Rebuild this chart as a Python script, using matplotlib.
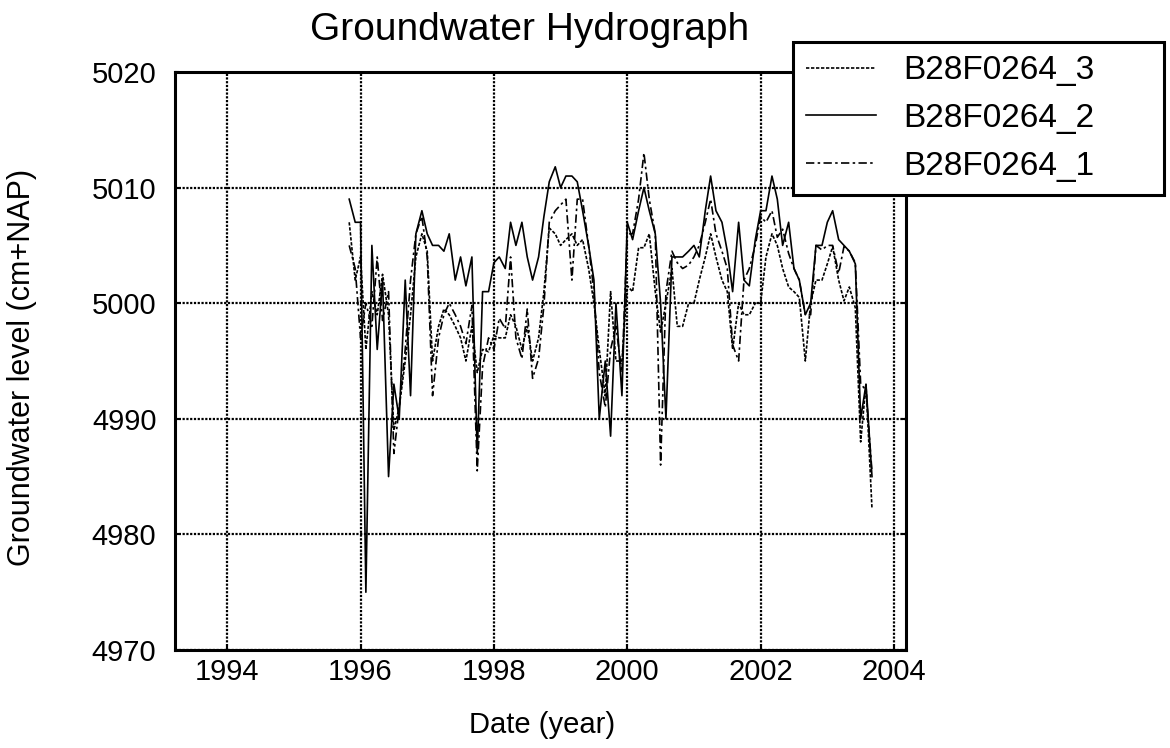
import matplotlib.pyplot as plt

# monthly readings, decimal years
years = [1995.83, 1995.92,
         1996.00, 1996.08, 1996.17, 1996.25, 1996.33, 1996.42, 1996.50, 1996.58, 1996.67, 1996.75, 1996.83, 1996.92,
         1997.00, 1997.08, 1997.17, 1997.25, 1997.33, 1997.42, 1997.50, 1997.58, 1997.67, 1997.75, 1997.83, 1997.92,
         1998.00, 1998.08, 1998.17, 1998.25, 1998.33, 1998.42, 1998.50, 1998.58, 1998.67, 1998.75, 1998.83, 1998.92,
         1999.00, 1999.08, 1999.17, 1999.25, 1999.33, 1999.42, 1999.50, 1999.58, 1999.67, 1999.75, 1999.83, 1999.92,
         2000.00, 2000.08, 2000.17, 2000.25, 2000.33, 2000.42, 2000.50, 2000.58, 2000.67, 2000.75, 2000.83, 2000.92,
         2001.00, 2001.08, 2001.17, 2001.25, 2001.33, 2001.42, 2001.50, 2001.58, 2001.67, 2001.75, 2001.83, 2001.92,
         2002.00, 2002.08, 2002.17, 2002.25, 2002.33, 2002.42, 2002.50, 2002.58, 2002.67, 2002.75, 2002.83, 2002.92,
         2003.00, 2003.08, 2003.17, 2003.25, 2003.33, 2003.42, 2003.50, 2003.58, 2003.67]

level_2 = [5009, 5007, 5007, 4975, 5005, 4996, 5002, 4985, 4993, 4990, 5002, 4992,
           5006, 5008, 5006, 5005, 5005, 5004.5, 5006, 5002, 5004, 5001.5, 5004, 4987,
           5001, 5001, 5003.5, 5004, 5003, 5007, 5005, 5007, 5004, 5002, 5004, 5007.5,
           5010.5, 5011.8, 5010, 5011, 5011, 5010.5, 5008, 5005, 5002, 4990, 4995, 4988.5,
           5000, 4992, 5007, 5005.5, 5008, 5010, 5008, 5006, 5000, 4990, 5004, 5004,
           5004, 5004.5, 5005, 5004, 5008, 5011, 5008, 5007, 5004.5, 5001, 5007, 5002,
           5001.5, 5005.5, 5008, 5008, 5011, 5009, 5005, 5007, 5003, 5002, 4999, 5000,
           5005, 5005, 5007, 5008, 5005.5, 5005, 5004.5, 5003.4, 4990, 4993, 4985]

level_1 = [5005, 5003, 4997, 5000, 4998, 5004, 4998.5, 5001, 4987, 4991, 4996, 5002,
           5006, 5007.5, 5004, 4992, 4997, 4999, 5000, 4999, 4998, 4996.5, 4999.8, 4985.5,
           4994.5, 4997, 4996, 4998.7, 4997.8, 5004, 4997, 4995.2, 4999.5, 4993.5, 4995.2, 4999.8,
           5007, 5008, 5008.5, 5009, 5002, 5009, 5009, 5005, 5001, 4994, 4991, 4996,
           4998, 4994, 5006, 5006, 5009, 5013, 5009, 5006, 4986, 5001, 5004.5, 5003.5,
           5003, 5003.3, 5004, 5005, 5007, 5009, 5006, 5004.5, 5003, 4996.4, 4995, 5002,
           5003, 5005, 5007.5, 5007, 5008, 5005.7, 5006.4, 5004.3, 5003, 5002, 4999, 4999,
           5005, 5004.6, 5005, 5005, 5002.6, 5004.9, 5004.5, 5003.5, 4993, 4992.5, 4985.4]

level_3 = [5007, 5002, 5004, 4996, 5001, 4999, 5002.5, 4999, 4989, 4991, 4995, 4999,
           5004, 5006, 5004.5, 4995, 4998, 4999.5, 4999, 4998, 4997, 4995, 4998, 4994,
           4996, 4995.8, 4997.2, 4997, 4997, 4999, 4998, 4996, 4998, 4995, 4997, 5001,
           5006.5, 5006, 5005, 5005.5, 5006, 5005, 5005.5, 5003, 5000, 4996, 4992, 5001,
           4995, 4995, 5001.5, 5001, 5004.8, 5004.8, 5006, 5001, 4997.5, 5000, 5003, 4998,
           4998, 5000, 5000, 5002, 5004, 5006, 5004, 5002, 5001, 4996, 5000, 4999,
           4999, 5000, 5000, 5004, 5006, 5005, 5003, 5001.4, 5001, 5000.5, 4995, 5000,
           5002, 5002, 5003.4, 5004.9, 5002, 5000.2, 5001.4, 4999.6, 4988, 4993, 4982.2]

x_ticks = [1994, 1996, 1998, 2000, 2002, 2004]
y_ticks = [4970, 4980, 4990, 5000, 5010, 5020]

plt.rcParams['font.family'] = ['Liberation Sans', 'DejaVu Sans']

W, H = 1170, 748
fig = plt.figure(figsize=(W / 100, H / 100), dpi=100)
ax = fig.add_axes([174.5 / W, 98 / H, 731.5 / W, 578 / H])

ax.plot(years, level_3, color='black', lw=1.2, ls=(0, (2, 1)), label='B28F0264_3')
ax.plot(years, level_2, color='black', lw=1.2, ls='-', label='B28F0264_2')
ax.plot(years, level_1, color='black', lw=1.2, ls=(0, (5, 2, 1.5, 2)), label='B28F0264_1')

ax.set_xlim(1993.21, 2004.18)
ax.set_ylim(4970, 5020)
ax.set_xticks(x_ticks)
ax.set_yticks(y_ticks)
ax.grid(True, color='black', ls=(0, (1, 0.7)), lw=1.6)
for sp in ax.spines.values():
    sp.set_linewidth(2.2)
ax.tick_params(direction='in', length=3, width=1.5, top=True, right=True, labelsize=21)
ax.tick_params(axis='x', pad=6)
ax.tick_params(axis='y', pad=13)

fig.text(530 / W, 1 - 40 / H, 'Groundwater Hydrograph', ha='center', va='baseline', fontsize=28)
fig.text(542 / W, 1 - 725 / H, 'Date (year)', ha='center', va='center', fontsize=21)
fig.text(22 / W, 1 - 367 / H, 'Groundwater level (cm+NAP)', ha='center', va='center',
         rotation=90, fontsize=22)

leg = fig.legend(loc='upper left', bbox_to_anchor=(793 / W, 1 - 197 / H, 371 / W, 155 / H),
                 mode='expand', fontsize=24, handlelength=2.1, handletextpad=0.8,
                 labelspacing=0.5, borderpad=0.4, borderaxespad=0, fancybox=False,
                 framealpha=1, edgecolor='black')
leg.get_frame().set_linewidth(2.2)

fig.savefig('out.png', dpi=100)
